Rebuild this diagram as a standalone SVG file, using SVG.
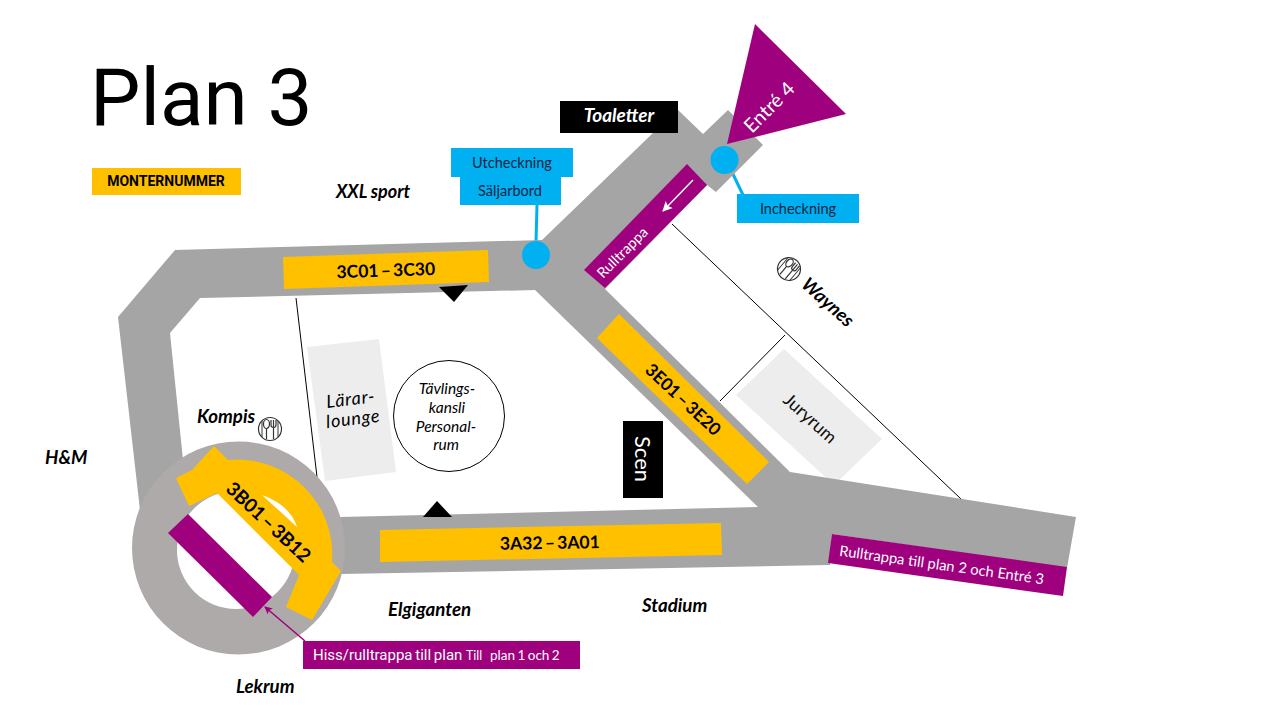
<svg xmlns="http://www.w3.org/2000/svg" width="1280" height="720" viewBox="0 0 1280 720">
<style>
.lato{font-family:"Lato","Open Sans",sans-serif}
.rob{font-family:"Roboto",sans-serif}
.shop{font-family:"Lato","Open Sans",sans-serif;font-weight:700;font-style:italic;font-size:18.700px;fill:#000}
.code{font-family:"Lato","Open Sans",sans-serif;font-weight:700;font-size:17.500px;word-spacing:-2px;fill:#000;text-anchor:middle}
.blue{fill:#00B0F0}
.blt{font-family:"Lato","Open Sans",sans-serif;font-size:14.500px;fill:#0B2545;text-anchor:middle}
.pur{fill:#9E007E}
.wht{font-family:"Lato","Open Sans",sans-serif;fill:#fff;text-anchor:middle}
.yel{fill:#FFC000}
.thin{stroke:#000;stroke-width:1;fill:none}
.ital{font-family:"Lato","Open Sans",sans-serif;font-style:italic;fill:#000;text-anchor:middle}
</style>
<defs>
<marker id="pa" markerWidth="8" markerHeight="8" refX="7" refY="4" orient="auto" markerUnits="userSpaceOnUse"><path d="M0,0L8,4L0,8L2,4Z" fill="#9E007E"/></marker>
<marker id="wa" markerWidth="11" markerHeight="11" refX="9" refY="5.500" orient="auto" markerUnits="userSpaceOnUse"><path d="M0,0.500L10,5.500L0,10.500L2,5.500Z" fill="#fff"/></marker>
<g id="ic" fill="none" stroke="#333" stroke-width="1.200">
<circle r="11.500" fill="#fff"/>
<path d="M-8,-8V8M8,-8V8" stroke-width="1"/>
<ellipse cx="-3.500" cy="-5" rx="3" ry="4.500" fill="#fff"/>
<path d="M-3.500,-0.500V10"/>
<path d="M1,-9V-4Q1,-1.500 3.500,-1.500Q6,-1.500 6,-4V-9M3.500,-9V10" fill="#fff"/>
</g>
</defs>
<rect width="1280" height="720" fill="#fff"/>

<g id="juryrum"><polygon points="784,349 882,439 834,485 736,395" fill="#EDEDED"/></g>
<g id="connectors">
<path class="thin" d="M672,224L961,499M785,335L720,401M296,298L317,477"/>
<path d="M537,205L536,242M731,170L743,195" stroke="#00B0F0" stroke-width="3" fill="none"/>
</g>
<g id="corridor"><polygon points="175,250 542,240 653,133 678,110 703,134 728,110 763,145 716,192 707,185 605,289 790,472 1076,517 1067,568 832,534 830,565 340,574 340,517 758,507 535,290 200,298 170,333 183,460 140,510 118,317" fill="#A5A5A5"/></g>
<g id="rotunda">
<circle cx="238.500" cy="548" r="106.500" fill="#AEAAAA"/>
<circle cx="236" cy="550" r="59" fill="#fff"/>
<path class="yel" d="M176,478L192,470L214,446L228,460A95,95 0 0 1 332,562L341,571L312,620L286,607L299,575L217,493L189,506Z"/>
<path d="M262,495Q290,505 297,527Z" fill="#fff"/>
<polygon class="pur" points="168,533 188,514 272,597 253,617"/>
<text class="code" style="font-size:19px" transform="translate(264,527) rotate(43)">3B01 – 3B12</text>
</g>
<g id="c-band"><polygon class="yel" points="283,257 488,250 489,282 284,289"/><text class="code" transform="translate(386,276.500) rotate(-2)">3C01 – 3C30</text></g>
<g id="a-band"><polygon class="yel" points="380,530 721,523 722,555 380,562"/><text class="code" transform="translate(550,549) rotate(-1)">3A32 – 3A01</text></g>
<g id="e-band"><polygon class="yel" points="619,314 769,462 747,484 597,338"/><text class="code" transform="translate(679,404) rotate(43)">3E01 – 3E20</text></g>
<g id="markers"><polygon points="439,287 468,285 454,302" fill="#000"/><polygon points="423,517 452,517 437,501" fill="#000"/></g>

<g id="title"><text class="rob" x="90" y="125" font-size="80" fill="#000">Plan 3</text></g>
<g id="legend"><rect x="92" y="168" width="149" height="27" class="yel"/><text class="rob" x="166" y="186" font-size="14" font-weight="700" text-anchor="middle" fill="#000">MONTERNUMMER</text></g>
<g id="toaletter"><rect x="560" y="101" width="118" height="32" fill="#000"/><text class="shop" x="619" y="122" text-anchor="middle" style="fill:#fff;font-size:19px">Toaletter</text></g>
<g id="utcheckning"><rect x="451" y="148" width="122" height="29" class="blue"/><text class="blt" x="512" y="168">Utcheckning</text></g>
<g id="saljarbord"><rect x="460" y="177" width="101" height="28" class="blue"/><text class="blt" x="510" y="196">Säljarbord</text></g>
<g id="dot-ut"><circle cx="536" cy="255" r="14" class="blue"/></g>
<g id="entre4"><polygon class="pur" points="755,24 846,114 727,144"/><text class="wht" font-size="19.500" transform="translate(774,112) rotate(-45)">Entré 4</text></g>
<g id="dot-in"><circle cx="724.500" cy="160" r="14" class="blue"/></g>
<g id="incheckning"><rect x="737" y="194" width="122" height="29" class="blue"/><text class="blt" x="798" y="214">Incheckning</text></g>
<g id="rulltrappa"><polygon class="pur" points="687,164 707,185 605,288 584,270"/><text class="wht" font-size="14.500" transform="translate(626,256) rotate(-45)">Rulltrappa</text><path d="M693,180L663,211" stroke="#fff" stroke-width="1.500" marker-end="url(#wa)"/></g>
<g id="larar"><polygon points="307,347 379,339 396,472 325,481" fill="#EDEDED"/><g font-size="18" letter-spacing="0.800" transform="rotate(-7 352 410)"><text x="352" y="405" class="ital">Lärar-</text><text x="352" y="425" class="ital">lounge</text></g></g>
<g id="kansli"><circle cx="449" cy="416" r="55.500" fill="#fff" stroke="#000" stroke-width="1"/><g font-size="15.500"><text class="ital" x="447" y="394">Tävlings-</text><text class="ital" x="447" y="413">kansli</text><text class="ital" x="446" y="432">Personal-</text><text class="ital" x="446" y="450">rum</text></g></g>
<g id="scen"><rect x="623" y="421" width="40" height="77" fill="#000"/><text class="wht" font-size="22" transform="translate(635,459) rotate(90)">Scen</text></g>
<text class="lato" font-size="18" fill="#111" text-anchor="middle" transform="translate(806,423) rotate(42)">Juryrum</text>
<g id="r-plan2"><polygon class="pur" points="832,534 1067,567 1063,596 828,563"/><text class="wht" font-size="14.700" transform="translate(941,570) rotate(8)">Rulltrappa till plan 2 och Entré 3</text></g>
<g id="hiss"><path d="M305,641L265,607" stroke="#9E007E" stroke-width="1.500" fill="none" marker-end="url(#pa)"/><rect x="303" y="641" width="277" height="28" class="pur"/><text class="rob" x="313" y="660" font-size="15" word-spacing="-1" fill="#fff">Hiss/rulltrappa till plan</text><text class="lato" x="466" y="660" font-size="12.500" fill="#fff">Till</text><text class="lato" x="490" y="660" font-size="13.500" word-spacing="-1" fill="#fff">plan 1 och 2</text></g>
<g id="labels">
<text class="shop" x="336" y="198" style="font-size:18px">XXL sport</text>
<text class="shop" text-anchor="middle" transform="translate(823.500,307) rotate(42)">Waynes</text>
<text class="shop" x="45" y="464">H&amp;M</text>
<text class="shop" x="197" y="423">Kompis</text>
<text class="shop" x="388" y="616">Elgiganten</text>
<text class="shop" x="642" y="612">Stadium</text>
<text class="shop" x="236" y="693">Lekrum</text>
</g>
<g id="icon-kompis"><use href="#ic" transform="translate(270,429)"/></g>
<g id="icon-waynes"><use href="#ic" transform="translate(789,269) rotate(40)"/></g>
</svg>
